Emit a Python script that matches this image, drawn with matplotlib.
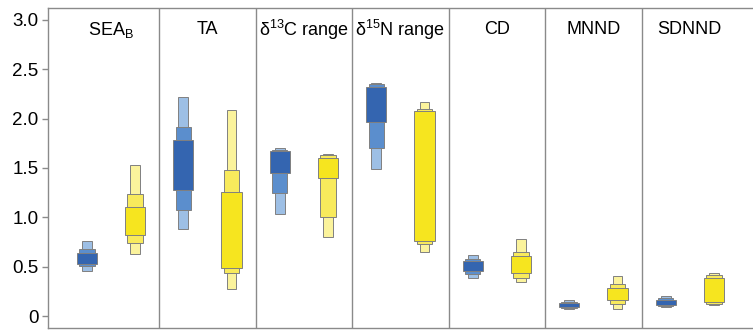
import numpy as np
import matplotlib
matplotlib.use("Agg")
import matplotlib.pyplot as plt

plt.rcParams['font.family'] = ['Liberation Sans', 'DejaVu Sans']
plt.rcParams['mathtext.fontset'] = 'custom'
plt.rcParams['mathtext.rm'] = 'Liberation Sans'
plt.rcParams['mathtext.it'] = 'Liberation Sans:italic'

metrics = ['SEA$_\\mathregular{B}$', 'TA', 'δ$^\\mathregular{13}$C range',
           'δ$^\\mathregular{15}$N range', 'CD', 'MNND', 'SDNND']

# credible intervals (low, high) for 95%, 75%, 50%
blue_95 = [(0.46, 0.76), (0.88, 2.22), (1.03, 1.70), (1.49, 2.36), (0.39, 0.62), (0.07, 0.16), (0.09, 0.20)]
blue_75 = [(0.51, 0.68), (1.07, 1.91), (1.25, 1.68), (1.70, 2.35), (0.43, 0.58), (0.08, 0.145), (0.10, 0.18)]
blue_50 = [(0.53, 0.635), (1.28, 1.78), (1.45, 1.67), (1.97, 2.32), (0.46, 0.56), (0.09, 0.135), (0.11, 0.16)]

yellow_95 = [(0.63, 1.53), (0.28, 2.09), (0.80, 1.645), (0.65, 2.17), (0.35, 0.78), (0.07, 0.41), (0.11, 0.44)]
yellow_75 = [(0.74, 1.24), (0.44, 1.48), (1.00, 1.63), (0.73, 2.10), (0.39, 0.65), (0.12, 0.33), (0.12, 0.415)]
yellow_50 = [(0.82, 1.11), (0.49, 1.26), (1.40, 1.60), (0.76, 2.08), (0.44, 0.61), (0.16, 0.29), (0.145, 0.39)]

blue_cols = ['#9dbfe5', '#5b8ecd', '#3465b0']
yellow_cols = ['#fbf39c', '#f8ea5c', '#f6e51f']
widths = [0.10, 0.16, 0.21]

fig = plt.figure(figsize=(7.53, 3.3), dpi=100)
ax = fig.add_axes([0.064, 0.006, 0.936, 0.970])

n = len(metrics)
for series, x_off, cols in [((blue_95, blue_75, blue_50), 0.25, blue_cols),
                            ((yellow_95, yellow_75, yellow_50), 0.75, yellow_cols)]:
    for level, w, c in zip(series, widths, cols):
        lo = np.array([v[0] for v in level])
        hi = np.array([v[1] for v in level])
        ax.bar(np.arange(n) + x_off, hi - lo, bottom=lo, width=w,
               color=c, edgecolor='#808080', linewidth=0.7, zorder=3)

for i in range(1, n):
    ax.axvline(i, color='#8a8a8a', linewidth=1.0, zorder=1)

for i, name in enumerate(metrics):
    ax.text(i + 0.5, 2.9, name, ha='center', va='center', fontsize=13)

ax.set_xlim(-0.15, 7.155)
ax.set_ylim(-0.12, 3.12)
ax.set_xticks([])
yt = [0, 0.5, 1.0, 1.5, 2.0, 2.5, 3.0]
ax.set_yticks(yt)
ax.set_yticklabels(['0', '0.5', '1.0', '1.5', '2.0', '2.5', '3.0'], fontsize=13.5)
ax.tick_params(axis='y', length=4, color='#8a8a8a', width=1.0, pad=3)
for s in ['left', 'bottom', 'top']:
    ax.spines[s].set_color('#8a8a8a')
    ax.spines[s].set_linewidth(1.0)
ax.spines['right'].set_visible(False)

fig.savefig('out.png', dpi=100)
